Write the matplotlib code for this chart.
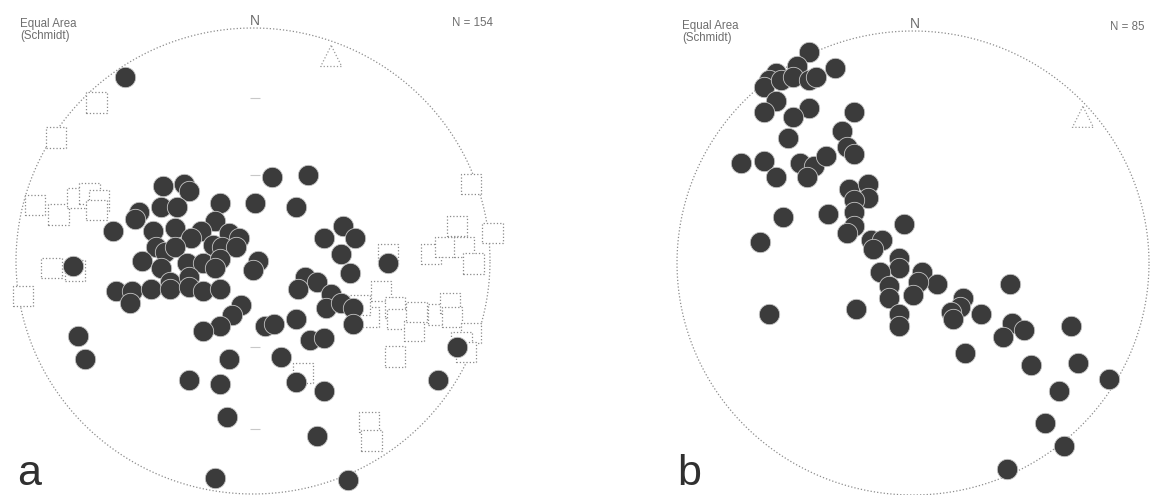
import numpy as np
import matplotlib.pyplot as plt

plt.rcParams['font.family'] = ['Liberation Sans', 'DejaVu Sans']

# poles on the net, east/north in units of the primitive circle radius
a_dots_e = [-0.54, 0.08, 0.23, 0.01, 0.18, -0.14, -0.38, -0.29, -0.27, -0.39,
            -0.32, -0.48, -0.50, -0.59, -0.16, -0.33, -0.42, -0.22, -0.10, -0.06,
            -0.26, -0.41, -0.37, -0.17, -0.13, -0.07, -0.33, -0.47, -0.39, -0.28,
            -0.21, -0.14, -0.16, 0.02, 0.00, -0.35, -0.27, -0.58, -0.51, -0.52,
            -0.43, -0.35, -0.27, -0.21, -0.14, -0.76, 0.30, 0.38, 0.43, 0.37,
            0.41, 0.57, 0.22, 0.27, 0.19, 0.33, 0.31, 0.37, 0.42, 0.42,
            -0.05, -0.09, -0.14, -0.21, 0.05, 0.09, 0.18, 0.24, 0.30, -0.74,
            -0.71, -0.10, 0.12, -0.27, -0.14, 0.18, 0.30, -0.11, 0.27, 0.86,
            0.78, -0.16, 0.40]
a_dots_n = [0.79, 0.36, 0.37, 0.25, 0.23, 0.25, 0.32, 0.33, 0.30, 0.23,
            0.23, 0.21, 0.18, 0.13, 0.17, 0.14, 0.13, 0.13, 0.12, 0.10,
            0.10, 0.06, 0.04, 0.07, 0.06, 0.06, 0.06, 0.00, -0.03, -0.01,
            -0.01, 0.01, -0.03, 0.00, -0.04, -0.09, -0.07, -0.13, -0.13, -0.18,
            -0.12, -0.12, -0.11, -0.13, -0.12, -0.02, 0.10, 0.15, 0.10, 0.03,
            -0.05, -0.01, -0.07, -0.09, -0.12, -0.14, -0.20, -0.18, -0.20, -0.27,
            -0.19, -0.23, -0.28, -0.30, -0.28, -0.27, -0.25, -0.34, -0.33, -0.32,
            -0.42, -0.42, -0.41, -0.51, -0.53, -0.52, -0.56, -0.67, -0.75, -0.37,
            -0.51, -0.93, -0.94]

a_squares_e = [-0.66, -0.83, -0.92, -0.82, -0.74, -0.69, -0.65, -0.66, -0.85, -0.75,
               -0.97, 0.92, 1.01, 0.86, 0.75, 0.81, 0.89, 0.93, 0.57, 0.54,
               0.60, 0.61, 0.68, 0.69, 0.78, 0.83, 0.84, 0.92, 0.88, 0.90,
               0.60, 0.49, 0.45, 0.21, 0.49, 0.50]
a_squares_n = [0.68, 0.53, 0.24, 0.20, 0.27, 0.29, 0.26, 0.22, -0.03, -0.04,
               -0.15, 0.33, 0.12, 0.15, 0.03, 0.06, 0.06, -0.01, 0.03, -0.13,
               -0.20, -0.25, -0.30, -0.22, -0.23, -0.18, -0.24, -0.31, -0.35, -0.39,
               -0.41, -0.24, -0.19, -0.48, -0.69, -0.77]

a_tri = (0.33, 0.88)
a_ticks_n = [0.70, 0.37, -0.37, -0.72]

b_dots_e = [-0.44, -0.33, -0.49, -0.58, -0.61, -0.63, -0.56, -0.51, -0.44, -0.41,
            -0.58, -0.63, -0.44, -0.51, -0.25, -0.30, -0.53, -0.28, -0.25, -0.73,
            -0.63, -0.58, -0.48, -0.42, -0.37, -0.45, -0.27, -0.19, -0.19, -0.25,
            -0.25, -0.55, -0.36, -0.04, -0.25, -0.28, -0.18, -0.13, -0.17, -0.65,
            -0.06, -0.06, -0.14, 0.04, 0.10, 0.02, -0.10, -0.10, 0.00, 0.21,
            0.20, 0.16, 0.17, 0.29, -0.06, -0.06, -0.24, -0.61, 0.41, 0.42,
            0.47, 0.38, 0.67, 0.22, 0.50, 0.70, 0.62, 0.83, 0.56, 0.64,
            0.40]
b_dots_n = [0.91, 0.84, 0.85, 0.82, 0.79, 0.76, 0.79, 0.80, 0.79, 0.80,
            0.70, 0.65, 0.67, 0.63, 0.65, 0.57, 0.54, 0.50, 0.47, 0.43,
            0.44, 0.37, 0.43, 0.42, 0.46, 0.37, 0.32, 0.34, 0.28, 0.27,
            0.22, 0.20, 0.21, 0.17, 0.16, 0.13, 0.10, 0.10, 0.06, 0.09,
            0.02, -0.02, -0.04, -0.04, -0.09, -0.08, -0.10, -0.15, -0.14, -0.15,
            -0.19, -0.21, -0.24, -0.22, -0.22, -0.27, -0.20, -0.22, -0.09, -0.26,
            -0.29, -0.32, -0.27, -0.39, -0.44, -0.43, -0.55, -0.50, -0.69, -0.79,
            -0.89]

b_tri = (0.72, 0.63)

W, H = 1152, 495
fig = plt.figure(figsize=(W / 100, H / 100), dpi=100)


def px(x, y):
    return x / W, 1 - y / H


def net(rect):
    ax = fig.add_axes(rect)
    t = np.linspace(0, 2 * np.pi, 400)
    ax.plot(np.cos(t), np.sin(t), ls=':', lw=0.9, color='#8c8c8c', clip_on=False)
    ax.set_xlim(-1, 1)
    ax.set_ylim(-1, 1)
    ax.axis('off')
    return ax


dot = dict(s=215, c='#3b3b3b', edgecolors='#c4c4c4', linewidths=0.6, zorder=3, clip_on=False)
box = dict(marker='s', s=215, facecolors='white', edgecolors='#8a8a8a', linewidths=0.9,
           linestyles=':', zorder=2, clip_on=False)
tri = dict(marker='^', s=230, facecolors='white', edgecolors='#9a9a9a', linewidths=0.9,
           linestyles=':', zorder=4, clip_on=False)

# net a
ax1 = net([16 / W, 1 / H, 474 / W, 466 / H])
ax1.scatter([0.01] * len(a_ticks_n), a_ticks_n, marker='_', s=60, c='#c8c8c8',
            linewidths=0.8, zorder=1)
ax1.scatter(a_squares_e, a_squares_n, **box)
ax1.scatter(a_dots_e, a_dots_n, **dot)
ax1.scatter([a_tri[0]], [a_tri[1]], **tri)

# net b
ax2 = net([677 / W, 0.0, 472 / W, 464 / H])
ax2.scatter(b_dots_e, b_dots_n, **dot)
ax2.scatter([b_tri[0]], [b_tri[1]], **tri)

lab = dict(fontsize=8.3, color='#6e6e6e', va='top', ha='left', linespacing=1.0)
fig.text(*px(20, 18), 'Equal Area\n(Schmidt)', **lab)
fig.text(*px(682, 20), 'Equal Area\n(Schmidt)', **lab)
fig.text(*px(255, 25), 'N', fontsize=10, color='#6e6e6e', ha='center', va='baseline')
fig.text(*px(915, 28), 'N', fontsize=10, color='#6e6e6e', ha='center', va='baseline')
fig.text(*px(452, 23), 'N = 154', fontsize=8.3, color='#6e6e6e', ha='left', va='center')
fig.text(*px(1110, 27), 'N = 85', fontsize=8.3, color='#6e6e6e', ha='left', va='center')
fig.text(*px(17, 494), 'a', fontsize=31, color='#303030', ha='left', va='bottom')
fig.text(*px(677, 494), 'b', fontsize=31, color='#303030', ha='left', va='bottom')

fig.savefig('out.png', dpi=100, facecolor='white')
